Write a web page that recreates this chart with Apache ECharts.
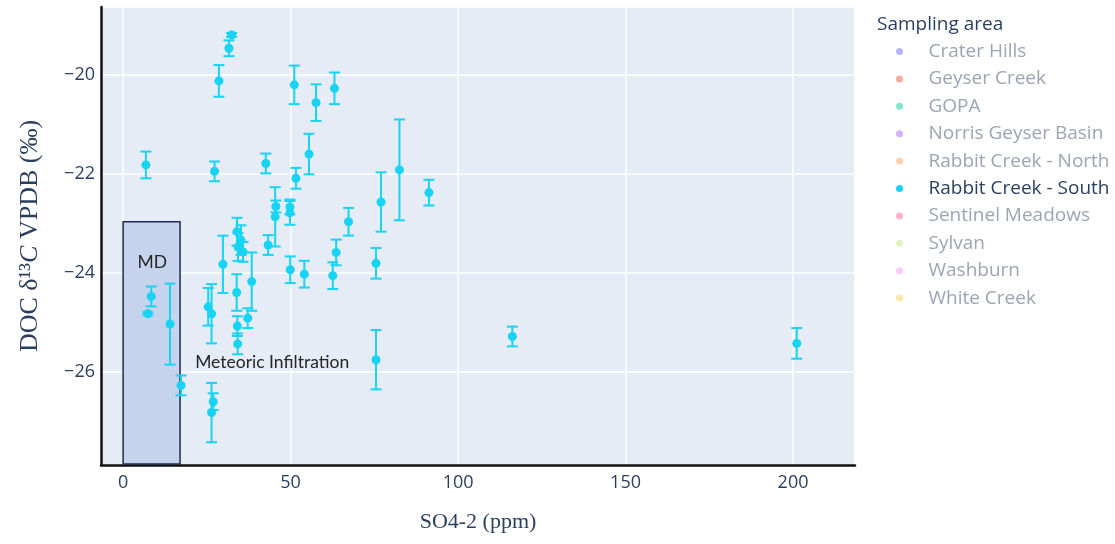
<!DOCTYPE html>
<html>
<head>
<meta charset="utf-8">
<title>DOC δ13C vs SO4-2</title>
<script src="https://cdn.jsdelivr.net/npm/echarts@6/dist/echarts.min.js"></script>
<style>
  html, body { margin: 0; padding: 0; background: #ffffff; }
  #chart { width: 1115px; height: 544px; }
</style>
</head>
<body>
<div id="chart"></div>
<script>
// Sampling areas shown in the legend and their marker colours
const samplingAreas = ['Crater Hills', 'Geyser Creek', 'GOPA', 'Norris Geyser Basin',
  'Rabbit Creek - North', 'Rabbit Creek - South', 'Sentinel Meadows', 'Sylvan',
  'Washburn', 'White Creek'];
const areaColors = ['#636efa', '#EF553B', '#00cc96', '#ab63fa', '#FFA15A',
  '#19d3f3', '#FF6692', '#B6E880', '#FF97FF', '#FECB52'];
const shownArea = 'Rabbit Creek - South';

// Rabbit Creek - South samples: sulfate (ppm), DOC δ13C (‰ VPDB) and its error
const so4 = [6.8, 7.4, 8.4, 14.0, 17.3, 25.4, 26.4, 26.9, 26.4, 27.3, 28.6, 29.8,
  31.6, 32.4, 34.0, 35.2, 34.3, 35.8, 33.9, 34.1, 34.2, 37.2, 38.4, 42.6, 43.3,
  45.6, 45.4, 49.8, 49.8, 49.9, 51.1, 51.6, 54.1, 55.5, 57.6, 62.6, 63.6, 63.1,
  67.3, 75.5, 75.5, 77.0, 82.5, 91.3, 116.2, 201.1];
const d13c = [-21.82, -24.83, -24.48, -25.04, -26.28, -24.69, -24.83, -26.61, -26.83,
  -21.95, -20.12, -23.83, -19.46, -19.19, -23.17, -23.34, -23.48, -23.58, -24.40,
  -25.08, -25.44, -24.92, -24.18, -21.79, -23.44, -22.66, -22.87, -22.67, -22.79,
  -23.94, -20.20, -22.09, -24.03, -21.60, -20.56, -24.06, -23.59, -20.27, -22.97,
  -23.81, -25.76, -22.57, -21.92, -22.38, -25.29, -25.43];
const d13cErr = [0.27, 0.03, 0.20, 0.82, 0.20, 0.38, 0.60, 0.17, 0.60, 0.20, 0.32,
  0.58, 0.16, 0.04, 0.28, 0.30, 0.28, 0.20, 0.37, 0.20, 0.21, 0.20, 0.59, 0.20,
  0.20, 0.12, 0.60, 0.15, 0.24, 0.27, 0.39, 0.21, 0.27, 0.41, 0.37, 0.27, 0.26,
  0.32, 0.28, 0.31, 0.60, 0.60, 1.02, 0.26, 0.20, 0.31];

// Shaded "MD" box (SO4 range, δ13C range) and annotation anchors
const mdBoxX = [0, 17];
const mdBoxY = [-27.87, -22.97];
const mdLabelAt = [8.7, -23.8];
const meteoricLabelAt = [44.5, -25.82];

const axisColor = '#2a3f5f';
const fadedText = '#9ba5b4';

function fade(hex) {
  const n = parseInt(hex.slice(1), 16);
  const r = Math.round(((n >> 16) & 255) * 0.5 + 127.5);
  const g = Math.round(((n >> 8) & 255) * 0.5 + 127.5);
  const b = Math.round((n & 255) * 0.5 + 127.5);
  return 'rgb(' + r + ',' + g + ',' + b + ')';
}

const points = so4.map((x, i) => [x, d13c[i], d13cErr[i]]);
const mainColor = areaColors[samplingAreas.indexOf(shownArea)];

function renderErrorBar(params, api) {
  const x = api.value(0), y = api.value(1), e = api.value(2);
  const top = api.coord([x, y + e]);
  const bot = api.coord([x, y - e]);
  const hw = 5.5;
  const style = { stroke: mainColor, lineWidth: 2, fill: null };
  return {
    type: 'group',
    children: [
      { type: 'line', shape: { x1: top[0], y1: top[1], x2: bot[0], y2: bot[1] }, style: style },
      { type: 'line', shape: { x1: top[0] - hw, y1: top[1], x2: top[0] + hw, y2: top[1] }, style: style },
      { type: 'line', shape: { x1: bot[0] - hw, y1: bot[1], x2: bot[0] + hw, y2: bot[1] }, style: style }
    ]
  };
}

const minus = v => String(v).replace('-', '\u2212');

const series = [];
// Annotation layer: MD box and its labels
series.push({
  name: '__annotations',
  type: 'scatter',
  data: [],
  z: 1,
  silent: true,
  markArea: {
    silent: true,
    itemStyle: { color: '#c5d3ec', borderColor: '#1e2b4d', borderWidth: 1.5 },
    label: { show: false },
    data: [[{ coord: [mdBoxX[0], mdBoxY[1]] }, { coord: [mdBoxX[1], mdBoxY[0]] }]]
  },
  markPoint: {
    silent: true,
    symbol: 'circle',
    symbolSize: 0,
    label: { show: true, position: 'inside', fontFamily: 'Lato', fontSize: 17.5, color: '#262626',
      formatter: p => p.name },
    data: [
      { name: 'MD', coord: mdLabelAt },
      { name: 'Meteoric Infiltration', coord: meteoricLabelAt }
    ]
  }
});
// Error bars
series.push({
  name: shownArea + ' error',
  type: 'custom',
  renderItem: renderErrorBar,
  data: points,
  encode: { x: 0, y: 1 },
  z: 3,
  clip: true
});
// One scatter series per sampling area (only Rabbit Creek - South has samples here)
samplingAreas.forEach((area, i) => {
  series.push({
    name: area,
    type: 'scatter',
    symbol: 'circle',
    symbolSize: 9,
    itemStyle: { color: areaColors[i], opacity: 1 },
    data: area === shownArea ? points.map(p => [p[0], p[1]]) : [],
    z: 4
  });
});

const chart = echarts.init(document.getElementById('chart'), null, { renderer: 'canvas' });
chart.setOption({
  animation: false,
  backgroundColor: '#ffffff',
  title: {
    text: 'Sampling area',
    left: 872,
    top: 10,
    textStyle: { fontFamily: 'Open Sans', fontSize: 19, fontWeight: 'normal', color: axisColor }
  },
  legend: {
    orient: 'vertical',
    left: 891,
    top: 37,
    itemWidth: 48,
    itemHeight: 7,
    itemGap: 8.4,
    selectedMode: false,
    icon: 'circle',
    textStyle: { fontFamily: 'Open Sans', fontSize: 19, color: axisColor },
    data: samplingAreas.map((area, i) => area === shownArea
      ? { name: area, itemStyle: { color: areaColors[i] }, textStyle: { color: axisColor } }
      : { name: area, itemStyle: { color: fade(areaColors[i]) }, textStyle: { color: fadedText } })
  },
  grid: {
    left: 101, top: 7, right: 260, bottom: 79,
    show: true, backgroundColor: '#e5ecf6', borderWidth: 0
  },
  xAxis: {
    type: 'value',
    min: -6.6,
    max: 218.5,
    splitNumber: 5,
    name: 'SO4-2 (ppm)',
    nameLocation: 'middle',
    nameGap: 46,
    nameTextStyle: { fontFamily: 'Liberation Serif', fontSize: 22, color: axisColor },
    axisLine: { show: true, onZero: false, lineStyle: { color: '#111111', width: 2.5 } },
    axisTick: { show: false },
    axisLabel: { fontFamily: 'Open Sans', fontSize: 18, color: axisColor, margin: 9,
      showMinLabel: false, showMaxLabel: false, formatter: minus },
    splitLine: { show: true, lineStyle: { color: '#ffffff', width: 1.5 } }
  },
  yAxis: {
    type: 'value',
    min: -27.89,
    max: -18.625,
    splitNumber: 5,
    name: 'DOC δ¹³{it|C} VPDB (‰)',
    nameLocation: 'middle',
    nameGap: 58,
    nameTextStyle: {
      fontFamily: 'Liberation Serif', fontSize: 26, color: axisColor,
      rich: { it: { fontFamily: 'Liberation Serif', fontSize: 26, fontStyle: 'italic', color: axisColor } }
    },
    axisLine: { show: true, onZero: false, lineStyle: { color: '#111111', width: 2.5 } },
    axisTick: { show: false },
    axisLabel: { fontFamily: 'Open Sans', fontSize: 18, color: axisColor, margin: 6,
      showMinLabel: false, showMaxLabel: false, formatter: minus },
    splitLine: { show: true, lineStyle: { color: '#ffffff', width: 1.5 } }
  },
  series: series
});
</script>
</body>
</html>
